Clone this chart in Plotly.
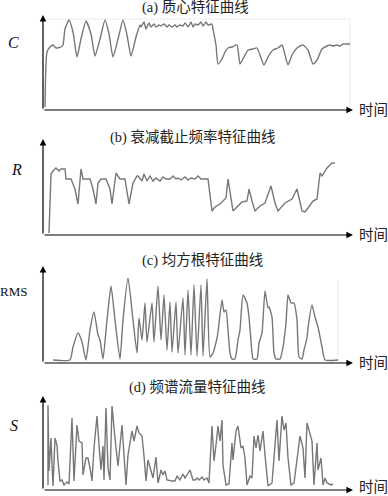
import plotly.graph_objects as go

# ---------------- data (arbitrary time units, arbitrary feature units) -------------
titles = ["(a) 质心特征曲线", "(b) 衰减截止频率特征曲线", "(c) 均方根特征曲线", "(d) 频谱流量特征曲线"]
y_labels = ["C", "R", "RMS", "S"]
x_label = "时间"

c_t = [2, 4, 7, 10, 13, 18, 20, 22, 26, 30, 34, 38, 43, 48, 52, 57, 62, 66, 70, 75, 80, 84, 88, 93, 97,
       98, 101, 103, 106, 108, 111, 113, 116, 118, 121, 124, 126, 129, 132, 134, 137, 140, 142, 145, 148, 150,
       152, 155, 158, 160, 163, 165, 169, 170, 173, 175, 179, 182, 185, 189, 194, 197, 201, 205, 210, 214,
       221, 225, 230, 235, 239, 245, 249, 254, 260, 265, 270, 274, 279, 284, 287, 290, 294, 297, 300, 304, 307]
c_v = [3, 58, 63, 65, 62, 63, 65, 81, 90, 78, 53, 71, 89, 76, 54, 71, 90, 76, 53, 71, 90, 75, 54, 73, 85,
       83, 88, 81, 87, 83, 86, 83, 85, 84, 86, 83, 85, 83, 85, 83, 85, 84, 87, 83, 88, 83,
       86, 85, 88, 84, 88, 85, 86, 81, 65, 46, 51, 58, 62, 63, 65, 46, 53, 60, 61, 62,
       45, 53, 60, 62, 65, 45, 55, 62, 65, 60, 46, 50, 61, 64, 65, 64, 65, 64, 66, 66, 66]

r_t = [6, 8, 10, 13, 16, 18, 22, 23, 28, 32, 35, 38, 40, 47, 50, 53, 55, 58, 63, 67, 69, 73, 77, 82, 86, 90, 94,
       95, 99, 101, 104, 107, 110, 113, 117, 120, 123, 127, 130, 133, 135, 138, 142, 145, 148, 152, 155, 158, 162,
       165, 169, 172, 177, 180, 183, 185, 190, 195, 199, 204, 206, 209, 212, 217, 222, 228, 232, 235, 242, 249,
       254, 259, 262, 265, 270, 274, 277, 279, 284, 289, 292]
r_v = [2, 61, 64, 67, 64, 66, 66, 56, 56, 46, 31, 66, 56, 56, 46, 31, 52, 56, 56, 46, 31, 62, 56, 56, 31, 52, 59,
       59, 54, 61, 54, 59, 54, 57, 54, 58, 56, 56, 59, 56, 57, 55, 58, 55, 57, 56, 59, 56, 56,
       56, 24, 28, 31, 34, 37, 56, 24, 29, 33, 34, 46, 34, 24, 29, 32, 49, 32, 24, 32, 36,
       46, 24, 23, 27, 34, 36, 62, 59, 67, 72, 72]

rms_t = [10, 27, 30, 35, 39, 43, 47, 51, 55, 57, 60, 64, 68, 72, 77, 80, 85, 90, 94,
         96, 99, 102, 104, 109, 111, 115, 118, 121, 124, 127, 129, 133, 135, 140, 142, 145, 148, 151, 154, 158,
         160, 164, 167, 170, 174, 175, 179, 181, 183, 185, 187, 189, 192, 195, 197, 200, 204, 206, 209, 210, 214,
         216, 219, 222, 225, 226, 229, 231, 233, 237, 240, 243, 245, 248, 251, 254, 256, 259, 261, 264, 265, 269,
         272, 275, 279, 282, 295]
rms_v = [3, 3, 16, 30, 21, 3, 33, 51, 28, 23, 4, 43, 77, 43, 4, 43, 85, 43, 10,
         45, 23, 60, 21, 60, 21, 77, 23, 68, 13, 61, 11, 61, 10, 65, 8, 73, 8, 78, 7, 78,
         7, 84, 6, 10, 25, 31, 63, 51, 53, 33, 10, 4, 4, 23, 33, 68, 60, 46, 10, 4, 4,
         20, 30, 72, 55, 56, 46, 10, 4, 4, 16, 40, 68, 60, 60, 43, 6, 4, 13, 25, 35, 58,
         46, 36, 16, 3, 3]

s_t = [5, 5, 6, 8, 9, 10, 12, 14, 15, 17, 19, 21, 24, 26, 29, 31, 34, 36, 39, 40, 43, 45, 47, 49, 51, 54, 56, 58,
       60, 61, 63, 65, 67, 69, 72, 75, 79, 80, 83, 85, 89, 91, 94, 96, 99, 101, 103, 105, 108, 110, 113, 115, 118,
       120, 122, 124, 129, 132, 134, 137, 140, 142, 144, 147, 150, 152, 154, 156, 159, 161, 164, 166, 169, 171,
       173, 175, 177, 179, 180, 183, 186, 189, 190, 193, 195, 198, 200, 202, 204, 207, 209, 211, 213, 215, 217,
       220, 222, 225, 229, 232, 234, 236, 239, 241, 243, 245, 248, 251, 254, 257, 260, 262, 264, 266, 269, 271,
       274, 275, 278, 280, 282, 284, 288, 290]
s_v = [5, 85, 19, 52, 25, 4, 52, 45, 29, 9, 10, 5, 8, 6, 72, 9, 65, 49, 47, 15, 32, 32, 22, 9, 42, 74, 45, 20,
       44, 10, 82, 22, 10, 84, 52, 24, 65, 49, 5, 35, 59, 49, 64, 57, 54, 34, 9, 30, 20, 12, 33, 7, 20,
       15, 19, 10, 9, 9, 14, 10, 16, 12, 15, 20, 10, 10, 12, 10, 13, 10, 12, 7, 64, 29,
       45, 64, 49, 70, 25, 5, 6, 47, 30, 59, 64, 42, 44, 32, 5, 14, 12, 54, 42, 55, 39,
       59, 35, 4, 7, 42, 70, 29, 74, 60, 67, 32, 5, 7, 29, 54, 42, 12, 67, 59, 49, 5,
       47, 20, 32, 5, 12, 7, 5, 6]

series = [(c_t, c_v), (r_t, r_v), (rms_t, rms_v), (s_t, s_v)]
shapes_kind = ["spline", "linear", "spline", "linear"]

# ---------------- layout geometry (page pixels) ----------------
W, H = 388, 496
x_left, x_right = 43, 353                    # y-axis position, x-arrow tip
panels = [  # (x-axis y px, y-arrow top px, title y px, y-label y px, x-label y px)
    (110, 15, 7, 43, 110),
    (235, 139, 137, 169, 235),
    (363, 266, 261, 291, 363),
    (490, 396, 387, 425, 487),
]
title_x = [195, 193, 202, 197]
ylab_x = [14, 16, 13, 14]

line_color = "#777777"
serif = "Liberation Serif, Times New Roman, Noto Sans CJK SC, serif"
cjk = "Liberation Serif, Noto Sans CJK SC, serif"

fig = go.Figure()
annotations = []
shapes = []

for i, ((t, v), (axy, topy, ty, ly, xly)) in enumerate(zip(series, panels)):
    n = "" if i == 0 else str(i + 1)
    fig.add_trace(go.Scatter(
        x=t, y=v, mode="lines", xaxis="x" + n, yaxis="y" + n,
        line=dict(color=line_color, width=1.4, shape=shapes_kind[i], smoothing=0.5),
        hoverinfo="skip", showlegend=False, cliponaxis=False,
    ))
    yr = axy - topy
    fig.layout["xaxis" + n] = dict(domain=[x_left / W, x_right / W], range=[0, x_right - x_left],
                                   visible=False, fixedrange=True)
    fig.layout["yaxis" + n] = dict(domain=[(H - axy) / H, (H - topy) / H], range=[0, yr],
                                   visible=False, fixedrange=True)
    # axes with arrows
    annotations.append(dict(xref="paper", yref="paper", x=x_right / W, y=(H - axy) / H,
                            axref="pixel", ayref="pixel", ax=-(x_right - x_left), ay=0,
                            showarrow=True, arrowhead=2, arrowsize=1.1, arrowwidth=1.2,
                            arrowcolor="black", text=""))
    annotations.append(dict(xref="paper", yref="paper", x=x_left / W, y=(H - topy) / H,
                            axref="pixel", ayref="pixel", ax=0, ay=yr,
                            showarrow=True, arrowhead=2, arrowsize=1.1, arrowwidth=1.2,
                            arrowcolor="black", text=""))
    # title
    annotations.append(dict(xref="paper", yref="paper", x=title_x[i] / W, y=(H - ty) / H,
                            text=titles[i], showarrow=False, xanchor="center", yanchor="middle",
                            font=dict(family=cjk, size=14.5, color="#222")))
    # x label
    annotations.append(dict(xref="paper", yref="paper", x=357 / W, y=(H - xly) / H,
                            text=x_label, showarrow=False, xanchor="left", yanchor="middle",
                            font=dict(family=cjk, size=14.5, color="#222")))
    # y label
    lab = y_labels[i] if y_labels[i] == "RMS" else "<i>" + y_labels[i] + "</i>"
    annotations.append(dict(xref="paper", yref="paper", x=ylab_x[i] / W, y=(H - ly) / H,
                            text=lab, showarrow=False, xanchor="center", yanchor="middle",
                            font=dict(family=serif, size=13 if y_labels[i] == "RMS" else 16, color="#111")))

# faint frame lines seen in the scan
shapes.append(dict(type="rect", xref="paper", yref="paper", x0=x_left / W, x1=350 / W,
                   y0=(H - 110) / H, y1=(H - 19) / H, line=dict(color="#ececec", width=1), layer="below"))
shapes.append(dict(type="line", xref="paper", yref="paper", x0=338 / W, x1=338 / W,
                   y0=(H - 362) / H, y1=(H - 280) / H, line=dict(color="#ececec", width=1), layer="below"))

fig.update_layout(width=W, height=H, margin=dict(l=0, r=0, t=0, b=0),
                  paper_bgcolor="white", plot_bgcolor="white",
                  annotations=annotations, shapes=shapes, showlegend=False)

fig.write_html("out.html", config={"displayModeBar": False, "staticPlot": True})
